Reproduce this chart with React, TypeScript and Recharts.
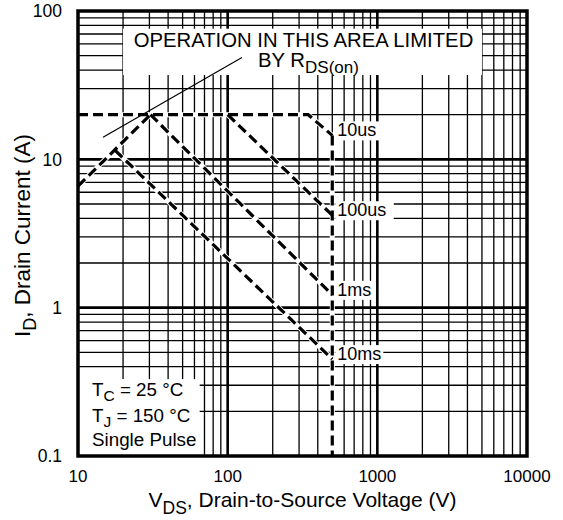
import React from 'react';
import { LineChart, Line, XAxis, YAxis, ReferenceLine, ReferenceArea, ReferenceDot } from 'recharts';

const FONT = 'Liberation Sans, Arial, Helvetica, sans-serif';

// axis ticks (decades)
const xTicks = [10, 100, 1000, 10000];
const yTicks = [0.1, 1, 10, 100];
const minorSteps = [2, 3, 4, 5, 6, 7, 8, 9];

// safe operating area boundaries, V in volts, I in amps
const rdsLimit = [{ v: 10, i: 6.6 }, { v: 30.5, i: 20 }];
const limit10us = [{ v: 10, i: 20 }, { v: 345, i: 20 }, { v: 500, i: 14.5 }];
const limit100us = [{ v: 100, i: 20 }, { v: 500, i: 4.2 }];
const limit1ms = [{ v: 30.5, i: 20 }, { v: 500, i: 1.22 }];
const limit10ms = [{ v: 17.7, i: 11.5 }, { v: 500, i: 0.45 }];
const voltageLimit = [{ v: 500, i: 14.5 }, { v: 500, i: 0.1 }];

const pulseLabels = [
  { name: '10us', v: 500, i: 14.5 },
  { name: '100us', v: 500, i: 4.2 },
  { name: '1ms', v: 500, i: 1.22 },
  { name: '10ms', v: 500, i: 0.45 },
];

const series = [
  { key: 'rds', data: rdsLimit },
  { key: '10us', data: limit10us },
  { key: '100us', data: limit100us },
  { key: '1ms', data: limit1ms },
  { key: '10ms', data: limit10ms },
  { key: 'vds', data: voltageLimit },
];

const gridX = xTicks.slice(0, -1).flatMap((d) => minorSteps.map((s) => d * s));
const gridY = yTicks.slice(0, -1).flatMap((d) => minorSteps.map((s) => +(d * s).toPrecision(3)));
const majorX = [100, 1000];
const majorY = [1, 10];

const XTitle = ({ viewBox }: any) => {
  const { x, y, width } = viewBox;
  return (
    <text x={x + width / 2} y={y + 51} textAnchor="middle" fontSize={21} fontFamily={FONT} fill="#000">
      <tspan>V</tspan>
      <tspan dy={7} fontSize={17.5}>DS</tspan>
      <tspan dy={-7}>, Drain-to-Source Voltage (V)</tspan>
    </text>
  );
};

const YTitle = ({ viewBox }: any) => {
  const cx = 30;
  const cy = viewBox.y + viewBox.height / 2 + 2;
  return (
    <text x={cx} y={cy} transform={`rotate(-90 ${cx} ${cy})`} textAnchor="middle" fontSize={22.5} fontFamily={FONT} fill="#000">
      <tspan>I</tspan>
      <tspan dy={6} fontSize={18}>D</tspan>
      <tspan dy={-6}>, Drain Current (A)</tspan>
    </text>
  );
};

const OperationBox = (props: any) => {
  const { x, y, width, height } = props;
  return (
    <g>
      <rect x={x} y={y} width={width} height={height} fill="#fff" />
      <text x={x + width / 2 + 1} y={y + 18} textAnchor="middle" fontSize={20.3} fontFamily={FONT} fill="#000">
        OPERATION IN THIS AREA LIMITED
      </text>
      <text x={x + 135} y={y + 38} fontSize={20.3} fontFamily={FONT} fill="#000">
        <tspan>BY R</tspan>
        <tspan dy={6} fontSize={17}>DS(on)</tspan>
      </text>
    </g>
  );
};

const ConditionsBox = (props: any) => {
  const { x, y, width, height } = props;
  const tx = x + 14;
  return (
    <g fontFamily={FONT} fontSize={18.8} fill="#000">
      <rect x={x} y={y} width={width} height={height} fill="#fff" />
      <text x={tx} y={y + 17}>
        <tspan>T</tspan>
        <tspan dy={5} fontSize={15.5}>C</tspan>
        <tspan dy={-5}> = 25 °C</tspan>
      </text>
      <text x={tx} y={y + 43}>
        <tspan>T</tspan>
        <tspan dy={5} fontSize={15.5}>J</tspan>
        <tspan dy={-5}> = 150 °C</tspan>
      </text>
      <text x={tx} y={y + 67}>Single Pulse</text>
    </g>
  );
};

const PulseTag = ({ cx, cy, text }: any) => (
  <g>
    <rect x={cx + 3} y={cy - 14} width={text.length * 10.5 + 6} height={19} fill="#fff" />
    <text x={cx + 5} y={cy + 1} fontSize={18} fontFamily={FONT} fill="#000">
      {text}
    </text>
  </g>
);

export default function App() {
  return (
    <div style={{ position: 'absolute', left: 0, top: 0, background: '#fff' }}>
      <LineChart width={563} height={520} margin={{ top: 11, right: 36, bottom: 0, left: 0 }}>
        <XAxis
          dataKey="v"
          type="number"
          scale="log"
          domain={[10, 10000]}
          allowDataOverflow
          ticks={xTicks}
          tickFormatter={(t: number) => String(t)}
          axisLine={false}
          tickLine={false}
          tickMargin={8}
          height={64}
          tick={{ fill: '#000', fontSize: 17, fontFamily: FONT }}
          label={<XTitle />}
        />
        <YAxis
          dataKey="i"
          type="number"
          scale="log"
          domain={[0.1, 100]}
          allowDataOverflow
          ticks={yTicks}
          tickFormatter={(t: number) => String(t)}
          axisLine={false}
          tickLine={false}
          tickMargin={10}
          width={78}
          tick={{ fill: '#000', fontSize: 17.5, fontFamily: FONT }}
          label={<YTitle />}
        />

        {gridX.map((v) => (
          <ReferenceLine key={`gx${v}`} x={v} stroke="#000" strokeWidth={1.3} zIndex={10} />
        ))}
        {gridY.map((v) => (
          <ReferenceLine key={`gy${v}`} y={v} stroke="#000" strokeWidth={1.3} zIndex={10} />
        ))}
        {majorX.map((v) => (
          <ReferenceLine key={`mx${v}`} x={v} stroke="#000" strokeWidth={2.6} zIndex={20} />
        ))}
        {majorY.map((v) => (
          <ReferenceLine key={`my${v}`} y={v} stroke="#000" strokeWidth={2.6} zIndex={20} />
        ))}

        {series.flatMap((s) => [
          <Line
            key={`${s.key}-bg`}
            data={s.data}
            dataKey="i"
            type="linear"
            stroke="#fff"
            strokeWidth={5}
            dot={false}
            activeDot={false}
            isAnimationActive={false}
            zIndex={300}
          />,
          <Line
            key={s.key}
            data={s.data}
            dataKey="i"
            type="linear"
            stroke="#000"
            strokeWidth={3.2}
            strokeDasharray="10 5"
            dot={false}
            activeDot={false}
            isAnimationActive={false}
            zIndex={310}
          />,
        ])}

        <ReferenceArea x1={20} x2={5000} y1={37} y2={76} shape={<OperationBox />} zIndex={1000} />
        <ReferenceArea x1={10} x2={65} y1={0.1} y2={0.33} shape={<ConditionsBox />} zIndex={1000} />

        <ReferenceLine
          segment={[{ x: 14.7, y: 14.1 }, { x: 124.6, y: 48.6 }]}
          stroke="#000"
          strokeWidth={1.2}
          zIndex={1050}
        />

        {pulseLabels.map((p) => (
          <ReferenceDot
            key={p.name}
            x={p.v}
            y={p.i}
            r={0}
            shape={(props: any) => <PulseTag {...props} text={p.name} />}
            zIndex={1100}
          />
        ))}

        <ReferenceArea x1={10} x2={10000} y1={0.1} y2={100} fill="none" fillOpacity={0} stroke="#000" strokeWidth={3.5} zIndex={1200} />
      </LineChart>
    </div>
  );
}
